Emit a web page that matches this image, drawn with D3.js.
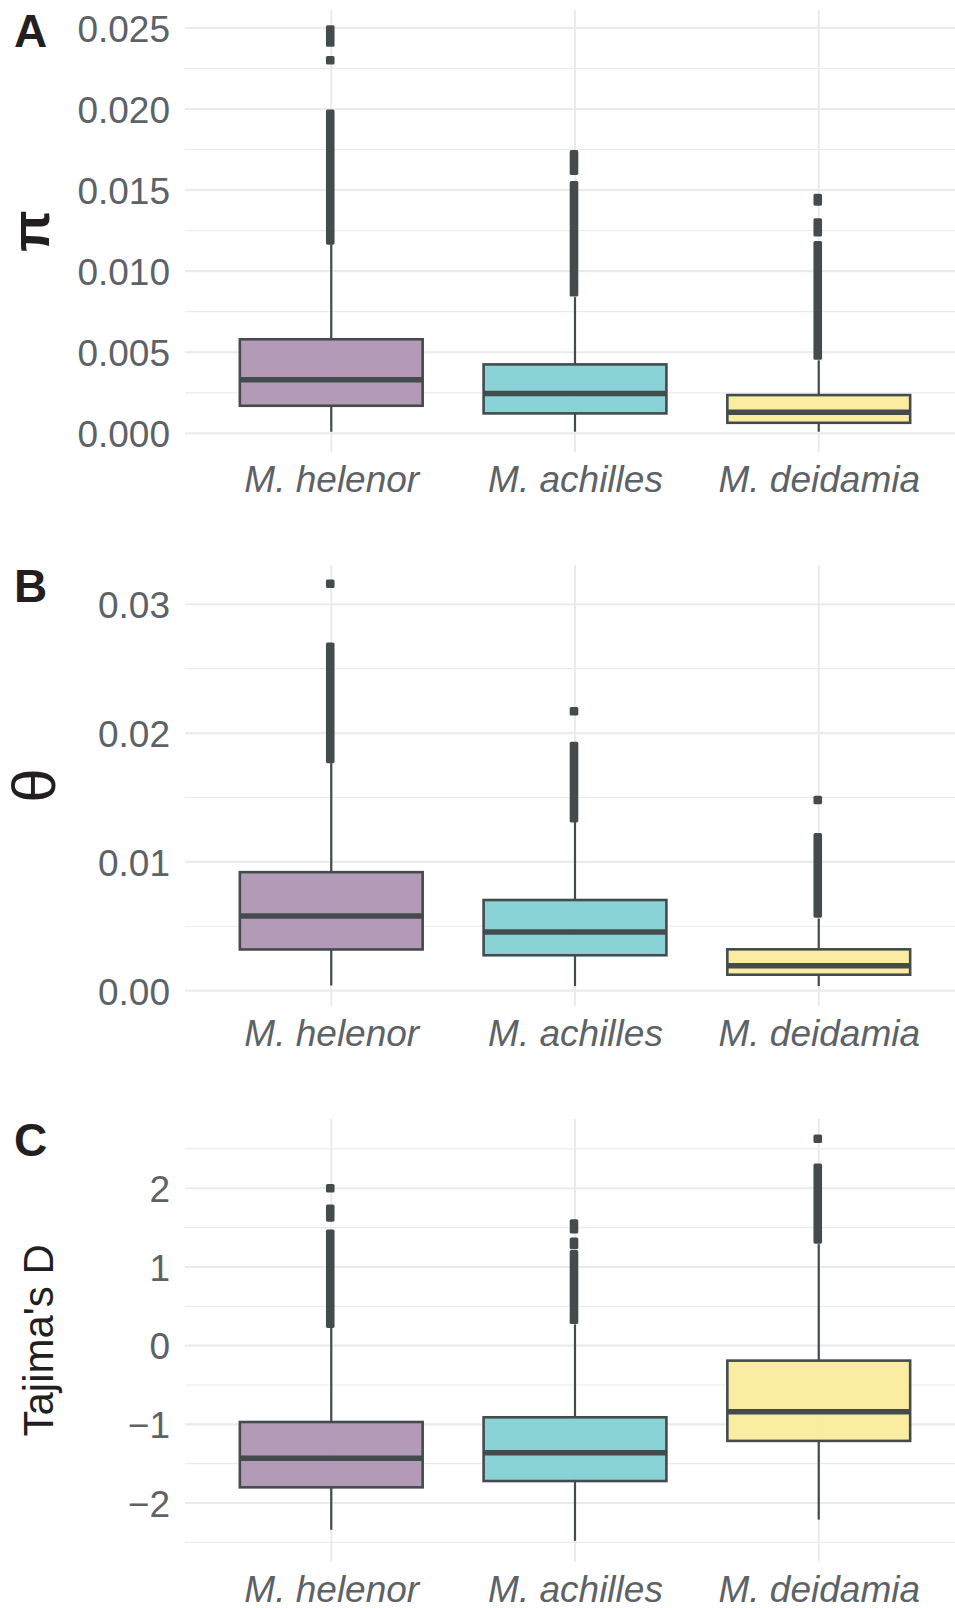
<!DOCTYPE html>
<html>
<head>
<meta charset="utf-8">
<script src="https://cdn.jsdelivr.net/npm/d3@7"></script>
<style>
  html, body { margin: 0; padding: 0; background: #ffffff; }
  svg { display: block; }
</style>
</head>
<body>
<svg id="chart" width="955" height="1608"></svg>
<script>
// Species shown on the x axis of every panel
const species = ["M. helenor", "M. achilles", "M. deidamia"];
const speciesFill = ["#ad92b2", "#80cfd3", "#faec9b"];

// Box statistics per species: [whisker low, Q1, median, Q3, whisker high]
const piStats = [
  [0.0001, 0.0017, 0.0033, 0.0058, 0.01166],
  [0.0001, 0.00123, 0.00246, 0.00425, 0.0084],
  [0.0001, 0.00065, 0.0013, 0.00236, 0.0045]
];
const thetaStats = [
  [0.0004, 0.0032, 0.0058, 0.0092, 0.0177],
  [0.00036, 0.00275, 0.00456, 0.00704, 0.0131],
  [0.00036, 0.00124, 0.00194, 0.00321, 0.0056]
];
const tajimaStats = [
  [-2.34, -1.80, -1.43, -0.97, 0.23],
  [-2.48, -1.72, -1.36, -0.91, 0.27],
  [-2.21, -1.21, -0.84, -0.19, 1.29]
];

// Outliers, given as runs of overlapping points [lowest, highest]
const piOutliers = [
  [[0.0119, 0.0197], [0.0230, 0.0230], [0.0241, 0.0249]],
  [[0.0087, 0.0153], [0.0162, 0.0172]],
  [[0.0048, 0.0116], [0.0124, 0.0130], [0.0143, 0.0145]]
];
const thetaOutliers = [
  [[0.0180, 0.0267], [0.0316, 0.0316]],
  [[0.0134, 0.0190], [0.0217, 0.0217]],
  [[0.0060, 0.0119], [0.0148, 0.0148]]
];
const tajimaOutliers = [
  [[0.28, 1.42], [1.63, 1.74], [2.0, 2.0]],
  [[0.33, 1.16], [1.28, 1.32], [1.48, 1.55]],
  [[1.35, 2.26], [2.63, 2.63]]
];

// Axis ticks and limits
const piTicks = [0, 0.005, 0.010, 0.015, 0.020, 0.025];
const thetaTicks = [0, 0.01, 0.02, 0.03];
const tajimaTicks = [-2, -1, 0, 1, 2];
const piDomain = [-0.00115, 0.0261];
const thetaDomain = [-0.00119, 0.03305];
const tajimaDomain = [-2.745, 2.88];

const panels = [
  { letter: "A", title: "π", stats: piStats, outliers: piOutliers, ticks: piTicks, domain: piDomain,
    fmt: d3.format(".3f"), top: 10, bottom: 452, titleSize: 54, titleWeight: "bold", titleX: 49 },
  { letter: "B", title: "θ", stats: thetaStats, outliers: thetaOutliers, ticks: thetaTicks, domain: thetaDomain,
    fmt: d3.format(".2f"), top: 565, bottom: 1006, titleSize: 62, titleWeight: "normal", titleX: 55 },
  { letter: "C", title: "Tajima's D", stats: tajimaStats, outliers: tajimaOutliers, ticks: tajimaTicks, domain: tajimaDomain,
    fmt: d3.format("d"), top: 1119, bottom: 1561.7, titleSize: 42, titleWeight: "normal", titleX: 53 }
];

const FONT = "'Liberation Sans', Arial, Helvetica, sans-serif";
const INK = "#444b4d";
const TICK_TEXT = "#5c6266";
const GRID = "#ebebef";
const plotLeft = 185, plotRight = 965, viewRight = 955;

const svg = d3.select("#chart");

const x = d3.scalePoint().domain(species).range([plotLeft, plotRight]).padding(0.6);
const boxW = x.step() * 0.75;
const markW = 8.6;

panels.forEach(p => {
  const y = d3.scaleLinear().domain(p.domain).range([p.bottom, p.top]);
  const g = svg.append("g");

  // minor grid: midpoints between major ticks, extended one step each side
  const step = p.ticks[1] - p.ticks[0];
  const minors = [];
  for (let i = -1; i < p.ticks.length; i++) {
    const v = p.ticks[0] + (i + 0.5) * step;
    if (v >= p.domain[0] && v <= p.domain[1]) minors.push(v);
  }
  g.append("g").selectAll("line").data(minors).join("line")
    .attr("x1", plotLeft).attr("x2", viewRight)
    .attr("y1", d => y(d)).attr("y2", d => y(d))
    .attr("stroke", GRID).attr("stroke-width", 1.2);

  // major horizontal grid
  g.append("g").selectAll("line").data(p.ticks).join("line")
    .attr("x1", plotLeft).attr("x2", viewRight)
    .attr("y1", d => y(d)).attr("y2", d => y(d))
    .attr("stroke", GRID).attr("stroke-width", 2.1);

  // vertical grid at each species
  g.append("g").selectAll("line").data(species).join("line")
    .attr("x1", d => x(d)).attr("x2", d => x(d))
    .attr("y1", p.top).attr("y2", p.bottom)
    .attr("stroke", GRID).attr("stroke-width", 2);

  // y axis tick labels
  const yAxis = d3.axisLeft(y).tickValues(p.ticks).tickFormat(p.fmt).tickSize(0).tickPadding(0);
  const ya = g.append("g").attr("transform", `translate(170,0)`).call(yAxis);
  ya.select(".domain").remove();
  ya.selectAll("text")
    .attr("font-family", FONT).attr("font-size", 37).attr("fill", TICK_TEXT)
    .attr("dy", "0.36em");

  // x axis labels
  const xAxis = d3.axisBottom(x).tickSize(0).tickPadding(0);
  const xa = g.append("g").attr("transform", `translate(0,${p.bottom + 40})`).call(xAxis);
  xa.select(".domain").remove();
  xa.selectAll("text")
    .attr("font-family", FONT).attr("font-size", 37).attr("font-style", "italic")
    .attr("fill", TICK_TEXT).attr("dy", 0).attr("y", 0);

  // boxes
  const boxes = g.append("g").selectAll("g").data(species).join("g");
  boxes.each(function(sp, i) {
    const s = p.stats[i];
    const cx = x(sp);
    const bg = d3.select(this);
    // whiskers
    bg.append("line").attr("x1", cx).attr("x2", cx).attr("y1", y(s[0])).attr("y2", y(s[1]))
      .attr("stroke", INK).attr("stroke-width", 2.2);
    bg.append("line").attr("x1", cx).attr("x2", cx).attr("y1", y(s[3])).attr("y2", y(s[4]))
      .attr("stroke", INK).attr("stroke-width", 2.2);
    // outlier runs
    bg.selectAll("rect.out").data(p.outliers[i]).join("rect").attr("class", "out")
      .attr("x", cx - markW / 2 - 1)
      .attr("width", markW)
      .attr("y", d => y(d[1]) - markW / 2)
      .attr("height", d => y(d[0]) - y(d[1]) + markW)
      .attr("rx", 1.6)
      .attr("fill", INK);
    // box
    bg.append("rect")
      .attr("x", cx - boxW / 2).attr("width", boxW)
      .attr("y", y(s[3])).attr("height", y(s[1]) - y(s[3]))
      .attr("fill", speciesFill[i]).attr("fill-opacity", 0.93)
      .attr("stroke", INK).attr("stroke-width", 2.6);
    // median
    bg.append("line")
      .attr("x1", cx - boxW / 2).attr("x2", cx + boxW / 2)
      .attr("y1", y(s[2])).attr("y2", y(s[2]))
      .attr("stroke", INK).attr("stroke-width", 5.6);
  });

  // y axis title
  const cy = (p.top + p.bottom) / 2;
  g.append("text")
    .attr("transform", `translate(${p.titleX},${cy}) rotate(-90)`)
    .attr("text-anchor", "middle")
    .attr("font-family", FONT).attr("font-size", p.titleSize).attr("font-weight", p.titleWeight)
    .attr("fill", "#231f20")
    .text(p.title);

  // panel letter
  g.append("text")
    .attr("x", 14).attr("y", p.top + 37)
    .attr("font-family", FONT).attr("font-size", 46).attr("font-weight", "bold")
    .attr("fill", "#231f20")
    .text(p.letter);
});
</script>
</body>
</html>
